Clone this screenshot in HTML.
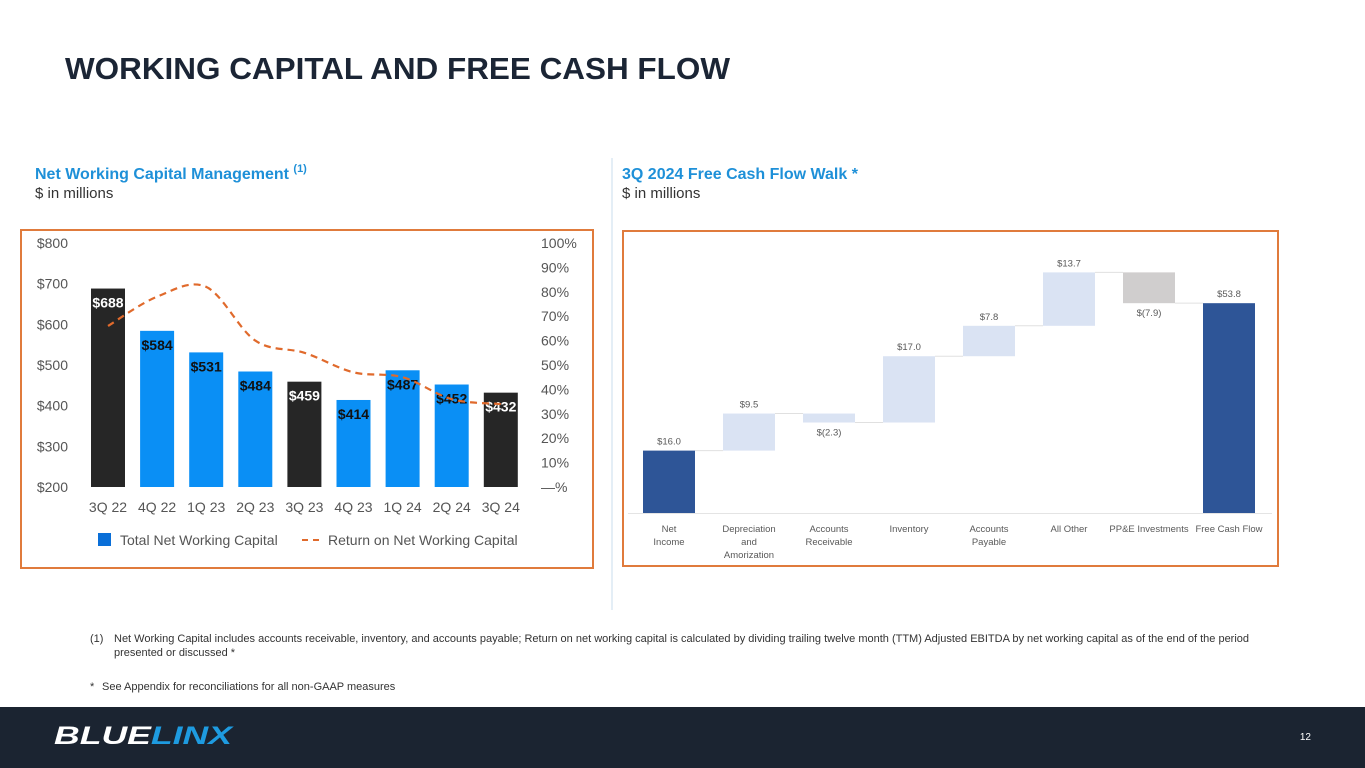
<!DOCTYPE html>
<html><head><meta charset="utf-8"><style>
html,body{margin:0;padding:0;background:#fff}
svg{display:block;font-family:"Liberation Sans",Arial,sans-serif}
</style></head><body>
<svg id="s" width="1365" height="768" viewBox="0 0 1365 768">
<text x="65" y="79" font-size="31" font-weight="bold" fill="#1b2535" textLength="665" lengthAdjust="spacingAndGlyphs">WORKING CAPITAL AND FREE CASH FLOW</text>
<text x="35" y="179" font-size="16" font-weight="bold" fill="#1e90d8">Net Working Capital Management <tspan font-size="11" dy="-7">(1)</tspan></text>
<text x="35" y="198" font-size="15" fill="#333">$ in millions</text>
<text x="622" y="179" font-size="16" font-weight="bold" fill="#1e90d8">3Q 2024 Free Cash Flow Walk *</text>
<text x="622" y="198" font-size="15" fill="#333">$ in millions</text>
<line x1="612" y1="158" x2="612" y2="610" stroke="#dce8f3" stroke-width="1.5"/>
<rect x="21" y="230" width="572" height="338" fill="none" stroke="#e07b3c" stroke-width="2"/>
<rect x="623" y="231" width="655" height="335" fill="none" stroke="#e07b3c" stroke-width="2"/>
<g id="left"></g>
<g id="right"></g>
<text x="90" y="642" font-size="11" fill="#333">(1)<tspan x="114">Net Working Capital includes accounts receivable, inventory, and accounts payable; Return on net working capital is calculated by dividing trailing twelve month (TTM) Adjusted EBITDA by net working capital as of the end of the period</tspan><tspan x="114" dy="14">presented or discussed *</tspan></text>
<text x="90" y="690" font-size="11" fill="#333">*<tspan x="102">See Appendix for reconciliations for all non-GAAP measures</tspan></text>
<rect x="0" y="707" width="1365" height="61" fill="#1b2431"/>
<text x="54" y="744" font-size="25" font-weight="bold" font-style="italic" fill="#fff" textLength="178" lengthAdjust="spacingAndGlyphs">BLUE<tspan fill="#1e9be0">LINX</tspan></text>
<text x="1311" y="740" font-size="10" fill="#fff" text-anchor="end">12</text>
</svg>
<script>
const NS="http://www.w3.org/2000/svg";
// Left chart data
const quarters=["3Q 22","4Q 22","1Q 23","2Q 23","3Q 23","4Q 23","1Q 24","2Q 24","3Q 24"];
const nwcValues=[688,584,531,484,459,414,487,452,432];
const ronwcValues=[66,78,82,60,55,47,45,36,34];
const leftTicks=[200,300,400,500,600,700,800];
const rightTicks=["—%","10%","20%","30%","40%","50%","60%","70%","80%","90%","100%"];
// Right chart data
const fcfCategories=[["Net","Income"],["Depreciation","and","Amorization"],["Accounts","Receivable"],["Inventory"],["Accounts","Payable"],["All Other"],["PP&E Investments"],["Free Cash Flow"]];
const fcfValues=[16.0,9.5,-2.3,17.0,7.8,13.7,-7.9,53.8];
const fcfLabels=["$16.0","$9.5","$(2.3)","$17.0","$7.8","$13.7","$(7.9)","$53.8"];

function mk(tag,attrs,parent,txt){const e=document.createElementNS(NS,tag);for(const k in attrs)e.setAttribute(k,attrs[k]);if(txt!=null)e.textContent=txt;parent.appendChild(e);return e;}

const L=document.getElementById('left');
const yL=v=>487-(v-200)*(244/600);
const yP=p=>487-p*2.44;
const xL=i=>108+i*49.1;
leftTicks.forEach(t=>{const e=mk('text',{x:68,y:yL(t)+5,'font-size':14,fill:'#555','text-anchor':'end'},L,'$'+t);

});
rightTicks.forEach((t,i)=>{const e=mk('text',{x:541,y:yP(i*10)+5,'font-size':14,fill:'#555'},L,t);

});
nwcValues.forEach((v,i)=>{const dark=(i===0||i===4||i===8);
const r=mk('rect',{x:xL(i)-17,y:yL(v),width:34,height:yL(200)-yL(v),fill:dark?'#262626':'#0a8ff5'},L);


const t=mk('text',{x:xL(i),y:yL(v)+19,'font-size':14,'font-weight':'bold',fill:dark?'#fff':'#111','text-anchor':'middle'},L,'$'+v);


const q=mk('text',{x:xL(i),y:512,'font-size':14,fill:'#555','text-anchor':'middle'},L,quarters[i]);

});
const pts=ronwcValues.map((p,i)=>[xL(i),yP(p)]);
let d='M'+pts[0][0]+','+pts[0][1];
for(let i=0;i<pts.length-1;i++){const p0=pts[Math.max(0,i-1)],p1=pts[i],p2=pts[i+1],p3=pts[Math.min(pts.length-1,i+2)];
const c1=[p1[0]+(p2[0]-p0[0])/6,p1[1]+(p2[1]-p0[1])/6],c2=[p2[0]-(p3[0]-p1[0])/6,p2[1]-(p3[1]-p1[1])/6];
d+=' C'+c1+' '+c2+' '+p2;}
const ln=mk('path',{d:d,fill:'none',stroke:'#e06a2c','stroke-width':2.2,'stroke-dasharray':'7,5'},L);


const lg1=mk('rect',{x:98,y:533,width:13,height:13,fill:'#0a6fd8'},L);


const lt1=mk('text',{x:120,y:545,'font-size':14,fill:'#555'},L,'Total Net Working Capital');


const lg2=mk('line',{x1:302,y1:540,x2:323,y2:540,stroke:'#e06a2c','stroke-width':2,'stroke-dasharray':'6,5'},L);


const lt2=mk('text',{x:328,y:545,'font-size':14,fill:'#555'},L,'Return on Net Working Capital');



const R=document.getElementById('right');
const base=513, sc=3.9;
const yR=v=>base-v*sc;
const xR=i=>669+i*80;
const bl=mk('line',{x1:628,y1:base+0.5,x2:1272,y2:base+0.5,stroke:'#e4e4e4','stroke-width':1},R);


let cum=0;
fcfValues.forEach((v,i)=>{const total=(i===0||i===fcfValues.length-1);
let lo,hi;
if(total){lo=0;hi=v;cum=v;}else{const s=cum;cum=cum+v;lo=Math.min(s,cum);hi=Math.max(s,cum);}
const fill=total?'#2e5597':(v<0&&i===6?'#d0cece':'#dae3f3');
const r=mk('rect',{x:xR(i)-26,y:yR(hi),width:52,height:yR(lo)-yR(hi),fill:fill},R);


if(i<fcfValues.length-1){const c=mk('line',{x1:xR(i)+26,y1:yR(cum),x2:xR(i+1)-26,y2:yR(cum),stroke:'#e0e0e0','stroke-width':1},R);

}
const ly=v<0?yR(lo)+13:yR(hi)-6;
const t=mk('text',{x:xR(i),y:ly,'font-size':9.5,fill:'#595959','text-anchor':'middle'},R,fcfLabels[i]);


fcfCategories[i].forEach((w,j)=>{const c=mk('text',{x:xR(i),y:532+j*13,'font-size':9.5,fill:'#595959','text-anchor':'middle'},R,w);

});
});
</script>
</body></html>
